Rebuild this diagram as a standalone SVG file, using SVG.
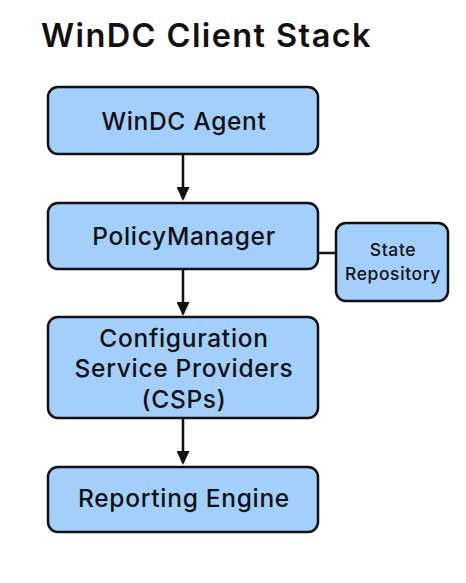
<svg xmlns="http://www.w3.org/2000/svg" width="466" height="583" viewBox="0 0 466 583">
<style>
.box{fill:#a2cffb;stroke:#111;stroke-width:2.5}
.t{font-family:Inter,"Noto Sans",sans-serif;font-size:24.5px;font-weight:500;letter-spacing:0.7px;fill:#111;text-anchor:middle}
.s{font-family:Inter,"Noto Sans",sans-serif;font-size:17.5px;font-weight:500;letter-spacing:0.6px;fill:#111;text-anchor:middle}
.ln{stroke:#111;stroke-width:2.5;fill:none}
</style>
<defs>
<marker id="ah" markerWidth="14" markerHeight="13" refX="12" refY="6.5" orient="auto" markerUnits="userSpaceOnUse" viewBox="0 0 14 13">
<path d="M0,0 L14,6.5 L0,13 Z" fill="#111"/>
</marker>
</defs>
<rect width="466" height="583" fill="#fff"/>
<text x="41" y="47" font-family="Inter,'Noto Sans',sans-serif" font-size="32.5" font-weight="600" letter-spacing="1.4" fill="#111">WinDC Client Stack</text>
<g id="connectors">
<path class="ln" d="M183,154 V199" marker-end="url(#ah)"/>
<path class="ln" d="M183,269 V314" marker-end="url(#ah)"/>
<path class="ln" d="M183,418 V463" marker-end="url(#ah)"/>
<path class="ln" d="M318,253 H336"/>
</g>
<g id="agent">
<rect class="box" x="48" y="87" width="270" height="67" rx="10"/>
<text class="t" x="184" y="130">WinDC Agent</text>
</g>
<g id="policymanager">
<rect class="box" x="48" y="203" width="270" height="66" rx="10"/>
<text class="t" x="184" y="245">PolicyManager</text>
</g>
<g id="state">
<rect class="box" x="336" y="223" width="112" height="78" rx="10"/>
<text class="s" x="393" y="256">State</text>
<text class="s" x="393" y="280">Repository</text>
</g>
<g id="csp">
<rect class="box" x="48" y="317" width="270" height="101" rx="10"/>
<text class="t" x="184" y="347">Configuration</text>
<text class="t" x="184" y="377">Service Providers</text>
<text class="t" x="184" y="408">(CSPs)</text>
</g>
<g id="reporting">
<rect class="box" x="48" y="467" width="270" height="65" rx="10"/>
<text class="t" x="184" y="507">Reporting Engine</text>
</g>
</svg>
